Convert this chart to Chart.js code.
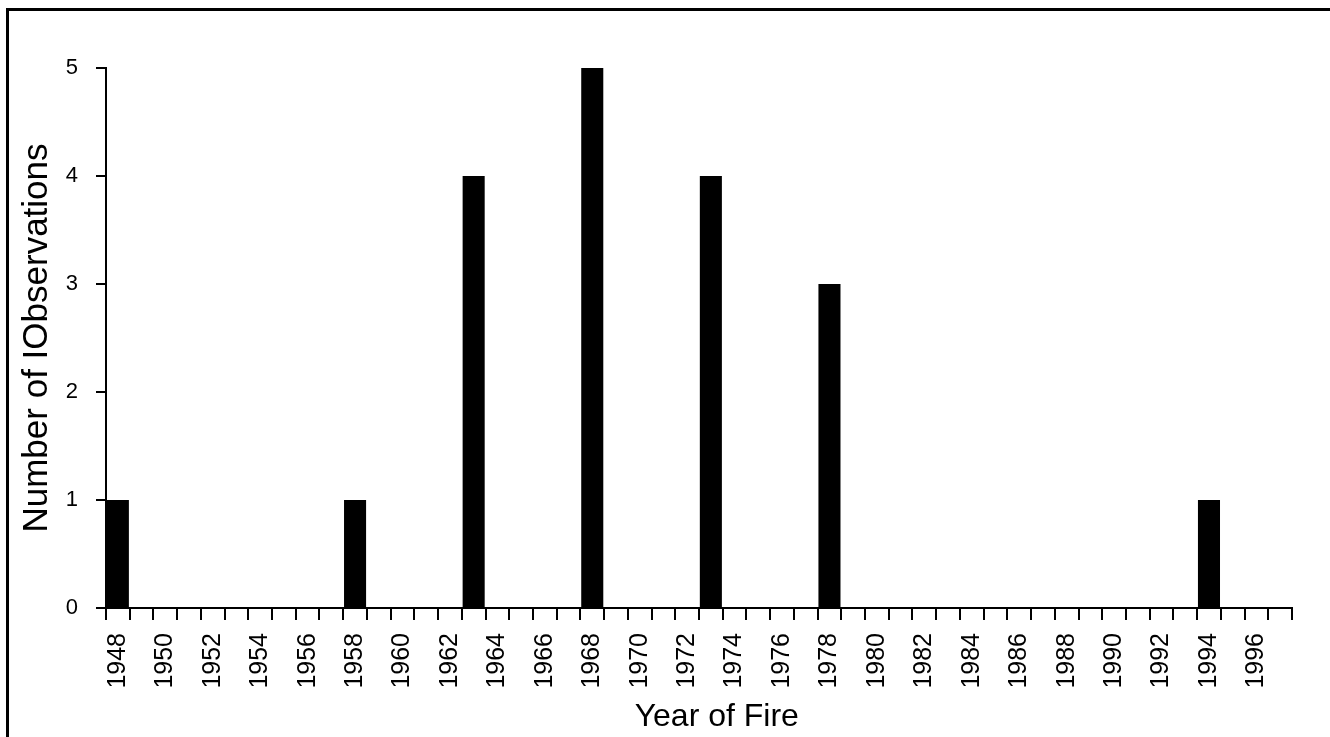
<!DOCTYPE html>
<html>
<head>
<meta charset="utf-8">
<script src="https://cdn.jsdelivr.net/npm/chart.js@4"></script>
<style>
  html, body { margin: 0; padding: 0; background: #fff; overflow: hidden; }
  #wrap { position: relative; width: 1330px; height: 737px; }
  #frame {
    position: absolute; left: 6px; top: 8px; width: 1400px; height: 800px;
    border-left: 3px solid #000; border-top: 3px solid #000;
  }
  #fireChart { position: absolute; left: 0; top: 0; }
</style>
</head>
<body>
<div id="wrap">
  <div id="frame"></div>
  <canvas id="fireChart" width="1330" height="737"></canvas>
</div>
<script>
// categories: every year on the axis
const years = [
  1948, 1949, 1950, 1951, 1952, 1953, 1954, 1955, 1956, 1957,
  1958, 1959, 1960, 1961, 1962, 1963, 1964, 1965, 1966, 1967,
  1968, 1969, 1970, 1971, 1972, 1973, 1974, 1975, 1976, 1977,
  1978, 1979, 1980, 1981, 1982, 1983, 1984, 1985, 1986, 1987,
  1988, 1989, 1990, 1991, 1992, 1993, 1994, 1995, 1996, 1997
];

// years that have observations, and how many
const fireYears = [1948, 1958, 1963, 1968, 1973, 1978, 1994];
const observations = [1, 1, 4, 5, 4, 3, 1];

const yTicks = [0, 1, 2, 3, 4, 5];

const counts = years.map(y => {
    const i = fireYears.indexOf(y);
    return i >= 0 ? observations[i] : 0;
});

const fontFamily = "'Liberation Sans', Arial, sans-serif";

const ctx = document.getElementById("fireChart").getContext("2d");

const fireChart = new Chart(ctx, {
    type: 'bar',
    data: {
        labels: years,
        datasets: [{
            data: counts,
            backgroundColor: '#000',
            borderWidth: 0,
            barPercentage: 1,
            categoryPercentage: 0.93
        }]
    },
    options: {
        responsive: false,
        animation: false,
        devicePixelRatio: 1,
        layout: { padding: { top: 68, right: 38, left: 0, bottom: 0 } },
        plugins: {
            legend: { display: false },
            tooltip: { enabled: false }
        },
        scales: {
            x: {
                offset: true,
                grid: {
                    offset: true,
                    drawOnChartArea: false,
                    color: '#000',
                    lineWidth: 2,
                    tickLength: 12
                },
                border: { color: '#000', width: 2 },
                ticks: {
                    autoSkip: false,
                    maxRotation: 90,
                    minRotation: 90,
                    padding: 13,
                    color: '#000',
                    font: { family: fontFamily, size: 25 },
                    callback: function (val) {
                        const y = this.getLabelForValue(val);
                        return y % 2 === 0 ? String(y) : '';
                    }
                },
                title: {
                    display: true,
                    // title sits a little right of the plot centre in the original
                    text: '    Year of Fire',
                    color: '#000',
                    font: { family: fontFamily, size: 32 },
                    padding: { top: 0, bottom: 1 }
                },
                afterFit: function (scale) { scale.height = 129; }
            },
            y: {
                min: 0,
                max: 5,
                grid: {
                    drawOnChartArea: false,
                    color: '#000',
                    lineWidth: 2,
                    tickLength: 10
                },
                border: { color: '#000', width: 2 },
                afterBuildTicks: function (scale) {
                    scale.ticks = yTicks.map(v => ({ value: v }));
                },
                ticks: {
                    padding: 18,
                    color: '#000',
                    font: { family: fontFamily, size: 22 }
                },
                title: {
                    display: true,
                    text: 'Number of IObservations',
                    color: '#000',
                    font: { family: fontFamily, size: 35 },
                    padding: { top: 16, bottom: 0 }
                },
                afterFit: function (scale) { scale.width = 106; }
            }
        }
    }
});
</script>
</body>
</html>
